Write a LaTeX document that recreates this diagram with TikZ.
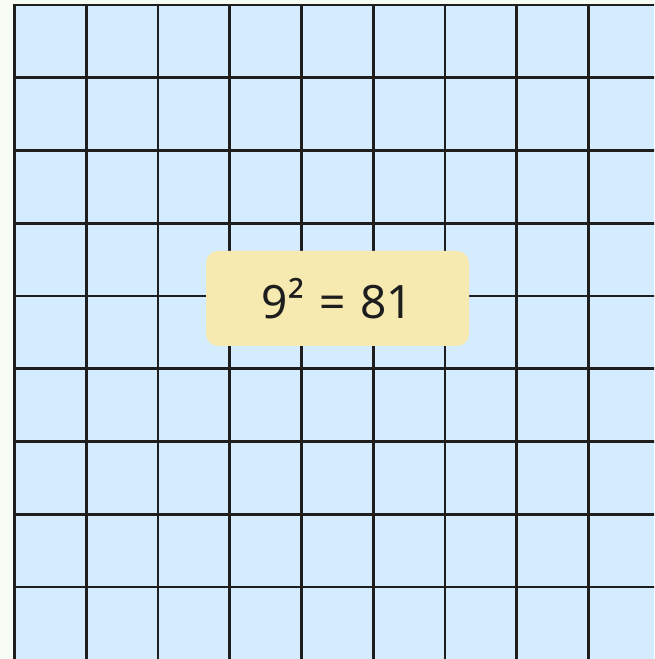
\documentclass[tikz,border=0pt]{standalone}
\usepackage{fontspec}
\setmainfont{Noto Sans}
\definecolor{bgc}{HTML}{F7FCF5}
\definecolor{cellc}{HTML}{D5EBFE}
\definecolor{gridc}{HTML}{1E1E1E}
\definecolor{labelc}{HTML}{F6EAB0}
\tikzset{
  gridline/.style={draw=gridc, line width=2.8pt},
  labelbox/.style={fill=labelc, rounded corners=12pt, minimum width=263pt, minimum height=95pt, inner sep=0pt, text=gridc, font=\fontsize{46}{54}\selectfont}
}
\begin{document}
\begin{tikzpicture}[x=1pt,y=1pt]
\useasboundingbox (0,0) rectangle (654,659);
\clip (0,0) rectangle (654,659);
\fill[bgc] (0,0) rectangle (654,659);
\fill[cellc] (14.5,-10) rectangle (670,654);
\foreach \i in {0,...,8} {
  \draw[gridline] ({14.5+71.75*\i},-10) -- ({14.5+71.75*\i},655.4);
}
\foreach \j in {0,...,8} {
  \draw[gridline] (13.1,{654-72.75*\j}) -- (670,{654-72.75*\j});
}
\node[labelbox] (lbl) at (337.5,360.5) {9\raisebox{1pt}{²}\hspace{3pt} = \hspace{3pt}81};
\end{tikzpicture}
\end{document}
